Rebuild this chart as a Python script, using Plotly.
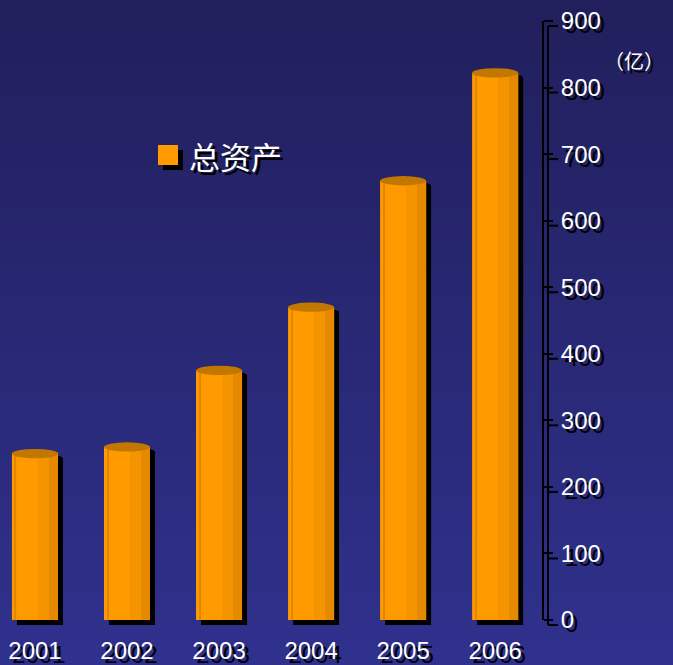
import plotly.graph_objects as go

# ---- data ----
years = ["2001", "2002", "2003", "2004", "2005", "2006"]
assets = [250, 260, 375, 470, 660, 822]
y_ticks = [0, 100, 200, 300, 400, 500, 600, 700, 800, 900]
series_name = "总资产"
unit_label = "（亿）"

# ---- layout geometry (pixels) ----
FIG_W, FIG_H = 673, 665
M_L, M_R, M_T, M_B = 0, 130, 10, 35
PLOT_W = FIG_W - M_L - M_R
PLOT_H = FIG_H - M_T - M_B
X_RANGE = [-0.38, 5.52]
PX_X = PLOT_W / (X_RANGE[1] - X_RANGE[0])
Y_MIN = -15
PX_Y = 0.6656
Y_RANGE = [Y_MIN, Y_MIN + PLOT_H / PX_Y]

xs = list(range(len(years)))
n = len(xs)
BW = 0.5
SH_X = 5 / PX_X          # shadow offset in x units
SH_Y = 5 / PX_Y          # shadow offset in y units
LID = 7                  # half height of lid ellipse in y units

font_lat = "Liberation Sans, Arial, sans-serif"
font_cjk = "Noto Sans CJK SC, sans-serif"
SHADOW = "4px 4px 0px black"

fig = go.Figure()

def layer(off_px, w_px, color, base=None, dx=0.0, name=None, show=False):
    fig.add_trace(go.Bar(
        x=xs, y=assets,
        base=base if base is not None else [0] * n,
        offset=[-BW / 2 + off_px / PX_X + dx] * n,
        width=[w_px / PX_X] * n,
        marker=dict(color=color, line=dict(width=0)),
        name=name or "", showlegend=show, hoverinfo="skip" if name is None else None,
    ))

# shadow
layer(0, 46, "black", base=[-SH_Y] * n, dx=SH_X)
# body
layer(0, 46, "#FF9A00", name=series_name)
layer(26, 20, "#F49400")
layer(37, 9, "#E48900")
layer(3, 1.2, "#E08600")

shapes = []
# background gradient (pixel bands converted to paper coords)
top_c = (33, 31, 92)
bot_c = (47, 49, 141)
NB = 70
for i in range(NB):
    t = i / (NB - 1)
    c = tuple(round(top_c[k] + (bot_c[k] - top_c[k]) * t) for k in range(3))
    py0 = FIG_H * i / NB
    py1 = FIG_H * (i + 1) / NB + 1
    shapes.append(dict(
        type="rect", xref="paper", yref="paper", layer="below",
        x0=-M_L / PLOT_W, x1=(FIG_W - M_L) / PLOT_W + 0.01,
        y0=(FIG_H - M_B - py1) / PLOT_H, y1=(FIG_H - M_B - py0) / PLOT_H,
        fillcolor="rgb(%d,%d,%d)" % c, line=dict(width=0),
    ))

# lids (shadow + top)
for x, v in zip(xs, assets):
    shapes.append(dict(type="circle", xref="x", yref="y", layer="below",
                       x0=x - BW / 2 + SH_X, x1=x + BW / 2 + SH_X,
                       y0=v - SH_Y - LID, y1=v - SH_Y + LID,
                       fillcolor="black", line=dict(width=0)))
    shapes.append(dict(type="circle", xref="x", yref="y", layer="above",
                       x0=x - BW / 2, x1=x + BW / 2,
                       y0=v - LID, y1=v + LID,
                       fillcolor="#C27800", line=dict(width=0)))

# y axis line + shadow line & shadow ticks
ax_sx = 5 / PLOT_W
shapes.append(dict(type="line", xref="paper", yref="y", x0=1, x1=1,
                   y0=y_ticks[0], y1=y_ticks[-1], line=dict(color="black", width=2)))
shapes.append(dict(type="line", xref="paper", yref="y", x0=1 + ax_sx, x1=1 + ax_sx,
                   y0=y_ticks[0] - SH_Y, y1=y_ticks[-1] - SH_Y,
                   line=dict(color="black", width=2)))
for t in y_ticks:
    shapes.append(dict(type="line", xref="paper", yref="y",
                       x0=1 + ax_sx, x1=1 + ax_sx + 10 / PLOT_W,
                       y0=t - SH_Y, y1=t - SH_Y, line=dict(color="black", width=2)))

# manual legend
lg_x0, lg_y0 = 158, 145  # px
def px2paper(px, py):
    return (px - M_L) / PLOT_W, (FIG_H - M_B - py) / PLOT_H
for dx, col in ((5, "black"), (0, "#FF9A00")):
    a0, b1 = px2paper(lg_x0 + dx, lg_y0 + dx)
    a1, b0 = px2paper(lg_x0 + dx + 20, lg_y0 + dx + 20)
    shapes.append(dict(type="rect", xref="paper", yref="paper", layer="above",
                       x0=a0, x1=a1, y0=b0, y1=b1, fillcolor=col, line=dict(width=0)))

ann = []
lx, ly = px2paper(187, 155)
ann.append(dict(xref="paper", yref="paper", x=lx, y=ly, xanchor="left", yanchor="middle",
                text=series_name, showarrow=False,
                font=dict(family=font_cjk, size=31, color="white", shadow="3px 3px 0px black")))
ux, uy = px2paper(666, 60)
ann.append(dict(xref="paper", yref="paper", x=ux, y=uy, xanchor="right", yanchor="middle",
                text=unit_label, showarrow=False,
                font=dict(family=font_cjk, size=20, color="white", shadow="3px 3px 0px black")))

fig.update_layout(
    width=FIG_W, height=FIG_H,
    margin=dict(l=M_L, r=M_R, t=M_T, b=M_B, pad=0),
    paper_bgcolor="rgb(40,40,116)", plot_bgcolor="rgba(0,0,0,0)",
    barmode="overlay", showlegend=False,
    shapes=shapes, annotations=ann,
    xaxis=dict(range=X_RANGE, tickvals=xs, ticktext=years, showgrid=False,
               zeroline=False, showline=False, ticks="", ticklabelstandoff=4,
               tickfont=dict(family=font_lat, size=24, color="white", shadow=SHADOW)),
    yaxis=dict(range=Y_RANGE, side="right", tickvals=y_ticks, showgrid=False,
               zeroline=False, showline=False, ticks="outside", ticklen=9,
               tickwidth=2, tickcolor="black", ticklabelstandoff=3,
               tickfont=dict(family=font_lat, size=24, color="white", shadow=SHADOW)),
)

fig.write_html("out.html")
